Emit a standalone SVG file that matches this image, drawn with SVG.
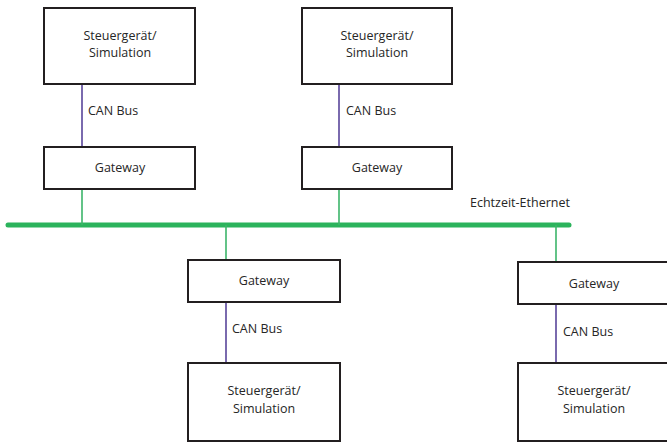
<svg xmlns="http://www.w3.org/2000/svg" width="667" height="443" viewBox="0 0 667 443">
  <style>
    .box { fill: #ffffff; stroke: #231f20; stroke-width: 2; }
    .lbl { font-family: "Open Sans", "Liberation Sans", sans-serif; font-size: 12.5px; fill: #262626; }
    .mid { text-anchor: middle; }
    .can { stroke: #7a6aae; stroke-width: 2; fill: none; }
    .eth { stroke: #3cb56a; stroke-width: 1.6; fill: none; }
    .bus { stroke: #2bb35c; stroke-width: 5; stroke-linecap: round; fill: none; }
  </style>
  <rect width="667" height="443" fill="#ffffff"/>

  <g id="connectors">
    <line class="bus" x1="8" y1="225" x2="569" y2="225"/>
    <line class="eth" x1="82" y1="189" x2="82" y2="225"/>
    <line class="eth" x1="339" y1="189" x2="339" y2="225"/>
    <line class="eth" x1="226" y1="225" x2="226" y2="260"/>
    <line class="eth" x1="556" y1="225" x2="556" y2="262"/>
    <line class="can" x1="82" y1="84" x2="82" y2="147"/>
    <line class="can" x1="339" y1="84" x2="339" y2="147"/>
    <line class="can" x1="226" y1="302" x2="226" y2="363"/>
    <line class="can" x1="556" y1="304" x2="556" y2="363"/>
    <text class="lbl" x="88" y="115">CAN Bus</text>
    <text class="lbl" x="346" y="115">CAN Bus</text>
    <text class="lbl" x="232" y="333">CAN Bus</text>
    <text class="lbl" x="563" y="336">CAN Bus</text>
    <text class="lbl" x="470" y="207">Echtzeit-Ethernet</text>
  </g>

  <g id="ecu1">
    <rect class="box" x="44" y="8" width="151" height="76"/>
    <text class="lbl mid" x="120" y="40">Steuergerät/</text>
    <text class="lbl mid" x="120" y="57">Simulation</text>
  </g>
  <g id="gateway1">
    <rect class="box" x="44" y="147" width="151" height="42"/>
    <text class="lbl mid" x="120" y="172">Gateway</text>
  </g>

  <g id="ecu2">
    <rect class="box" x="302" y="8" width="150" height="76"/>
    <text class="lbl mid" x="377" y="40">Steuergerät/</text>
    <text class="lbl mid" x="377" y="57">Simulation</text>
  </g>
  <g id="gateway2">
    <rect class="box" x="302" y="147" width="150" height="42"/>
    <text class="lbl mid" x="377" y="172">Gateway</text>
  </g>

  <g id="gateway3">
    <rect class="box" x="188" y="260" width="152" height="42"/>
    <text class="lbl mid" x="264" y="285">Gateway</text>
  </g>
  <g id="ecu3">
    <rect class="box" x="188" y="363" width="152" height="78"/>
    <text class="lbl mid" x="264" y="395">Steuergerät/</text>
    <text class="lbl mid" x="264" y="413">Simulation</text>
  </g>

  <g id="gateway4">
    <rect class="box" x="518" y="262" width="152" height="42"/>
    <text class="lbl mid" x="594" y="288">Gateway</text>
  </g>
  <g id="ecu4">
    <rect class="box" x="518" y="363" width="152" height="78"/>
    <text class="lbl mid" x="594" y="395">Steuergerät/</text>
    <text class="lbl mid" x="594" y="413">Simulation</text>
  </g>
</svg>
